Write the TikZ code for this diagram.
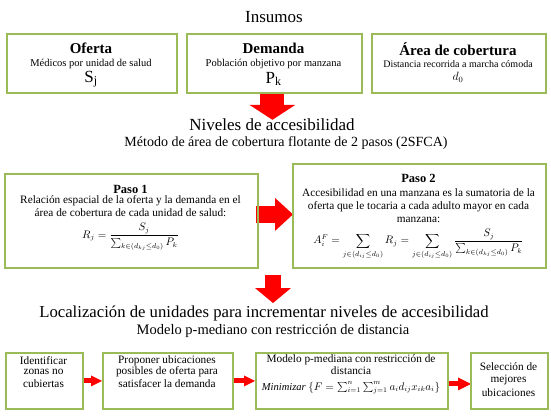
\documentclass[tikz,border=0pt]{standalone}
\usepackage{fontspec}
\setmainfont{Liberation Serif}
\usetikzlibrary{arrows.meta}
\definecolor{boxgreen}{RGB}{155,187,89}
\definecolor{arrowred}{RGB}{255,0,0}
\pgfdeclarelayer{background}
\pgfsetlayers{background,main}
\begin{document}
\begin{tikzpicture}[x=1pt,y=-1pt,
  greenbox/.style={draw=boxgreen,line width=1.8pt,inner sep=0pt,anchor=north west},
  txt/.style={inner sep=0pt,anchor=center},
  ttl/.style={txt,font=\fontsize{17}{20}\selectfont},
  subttl/.style={txt,font=\fontsize{14}{17}\selectfont},
  hd/.style={txt,font=\bfseries\fontsize{15}{18}\selectfont},
  phd/.style={txt,font=\bfseries\fontsize{12.5}{15}\selectfont},
  bodyt/.style={txt,font=\fontsize{10.5}{12}\selectfont},
  pbody/.style={txt,font=\fontsize{11.3}{13}\selectfont},
  bbody/.style={txt,font=\fontsize{11.3}{13}\selectfont},
  bigsym/.style={txt,font=\fontsize{17}{20}\selectfont},
  bigdown/.style={draw=arrowred,line width=24pt,-{Triangle[width=46pt,length=15pt,line width=0pt]}},
  bigdownb/.style={draw=arrowred,line width=16pt,-{Triangle[width=36pt,length=15pt,line width=0pt]}},
  bigright/.style={draw=arrowred,line width=17pt,-{Triangle[width=33pt,length=18pt,line width=0pt]}},
  smallarr/.style={draw=arrowred,line width=5pt,-{Triangle[width=11pt,length=11pt,line width=0pt]}},
  smallarrb/.style={draw=arrowred,line width=5pt,-{Triangle[width=13pt,length=13pt,line width=0pt]}}
]
\useasboundingbox (0,0) rectangle (551,415);

% ---------- Insumos ----------
\node[ttl] (tinsumos) at (274,17) {Insumos};

\node[greenbox,minimum width=170pt,minimum height=59pt] (oferta) at (6,33) {};
\node[hd] (ofertaT) at (91,48) {Oferta};
\node[bodyt] (ofertaD) at (91,64) {Médicos por unidad de salud};
\node[bigsym] (ofertaS) at (91,79) {S\textsubscript{j}};

\node[greenbox,minimum width=175pt,minimum height=59pt] (demanda) at (186,33) {};
\node[hd] (demandaT) at (273.5,48) {Demanda};
\node[bodyt] (demandaD) at (273.5,64) {Población objetivo por manzana};
\node[bigsym] (demandaS) at (273.5,79) {P\textsubscript{k}};

\node[greenbox,minimum width=174pt,minimum height=59pt] (area) at (371,33) {};
\node[hd] (areaT) at (458,49) {Área de cobertura};
\node[txt,font=\fontsize{10}{12}\selectfont] (areaD) at (458,64) {Distancia recorrida a marcha cómoda};
\node[txt,font=\fontsize{12}{14}\selectfont] (areaS) at (458,77) {$d_0$};

% ---------- Niveles ----------
\node[ttl] (tniveles) at (272,125) {Niveles de accesibilidad};
\node[subttl] (tmetodo) at (286,143) {Método de área de cobertura flotante de 2 pasos (2SFCA)};

\node[greenbox,minimum width=253pt,minimum height=94pt] (paso1) at (4,173) {};
\node[phd] (paso1T) at (130.5,189) {Paso 1};
\node[pbody] (paso1a) at (130.5,201) {Relación espacial de la oferta y la demanda en el};
\node[pbody] (paso1b) at (130.5,213) {área de cobertura de cada unidad de salud:};
\node[txt,font=\fontsize{10.5}{12}\selectfont] (paso1F) at (130.5,237)
  {$\displaystyle R_j=\frac{S_j}{\sum_{k\in(d_{kj}\le d_0)}P_k}$};

\node[greenbox,minimum width=253pt,minimum height=104pt] (paso2) at (292,163) {};
\node[phd] (paso2T) at (418.5,178) {Paso 2};
\node[pbody] (paso2a) at (418.5,193) {Accesibilidad en una manzana es la sumatoria de la};
\node[pbody] (paso2b) at (418.5,206.5) {oferta que le tocaria a cada adulto mayor en cada};
\node[pbody] (paso2c) at (418.5,219.5) {manzana:};
\node[txt,font=\fontsize{10.5}{12}\selectfont] (paso2F) at (418.5,244)
  {$\displaystyle A_i^F=\sum_{j\in(d_{ij}\le d_0)}R_j=\sum_{j\in(d_{ij}\le d_0)}\frac{S_j}{\sum_{k\in(d_{kj}\le d_0)}P_k}$};

% ---------- Localizacion ----------
\node[ttl,font=\fontsize{16.7}{20}\selectfont] (tlocal) at (264,313) {Localización de unidades para incrementar niveles de accesibilidad};
\node[subttl,font=\fontsize{14.5}{17}\selectfont] (tmodelo) at (273,331) {Modelo p-mediano con restricción de distancia};

\node[greenbox,minimum width=77pt,minimum height=56pt] (idz) at (5,352) {};
\node[bbody] (idz1) at (43.5,360.5) {Identificar};
\node[bbody] (idz2) at (43.5,372) {zonas no};
\node[bbody] (idz3) at (43.5,383.5) {cubiertas};

\node[greenbox,minimum width=130pt,minimum height=56pt] (prop) at (102,352) {};
\node[bbody] (prop1) at (167,360.5) {Proponer ubicaciones};
\node[bbody] (prop2) at (167,372) {posibles de oferta para};
\node[bbody] (prop3) at (167,383.5) {satisfacer la demanda};

\node[greenbox,minimum width=192pt,minimum height=56pt] (modelo) at (255,352) {};
\node[bbody] (mod1) at (351,360) {Modelo p-mediana con restricción de};
\node[bbody] (mod2) at (351,370.5) {distancia};
\node[txt,font=\fontsize{10.5}{12}\selectfont] (mod3) at (351,388)
  {$\mathit{Minimizar}\ \bigl\{F=\sum_{i=1}^{n}\sum_{j=1}^{m}a_id_{ij}x_{ik}a_i\bigr\}$};

\node[greenbox,minimum width=77pt,minimum height=56pt] (selec) at (470,352) {};
\node[bbody] (sel1) at (508.5,367) {Selección de};
\node[bbody] (sel2) at (508.5,380) {mejores};
\node[bbody] (sel3) at (508.5,393) {ubicaciones};

\coordinate (a3s) at (273,275);
\coordinate (a3e) at (273,303);

% ---------- arrows ----------
\begin{pgfonlayer}{background}
\draw[bigdown] ([xshift=-2pt]demanda.south) -- ++(0,26);
\draw[bigright] ([xshift=-3pt,yshift=6.5pt]paso1.east) -- ([xshift=1pt,yshift=1.5pt]paso2.west);
\draw[bigdownb] (a3s) -- (a3e);
\draw[smallarr] ([xshift=-1pt]idz.east) -- (prop.west);
\draw[smallarr] ([xshift=-1pt]prop.east) -- (modelo.west);
\draw[smallarrb] ([yshift=-3pt]modelo.east) -- ([xshift=1pt,yshift=-3pt]selec.west);
\end{pgfonlayer}
\end{tikzpicture}
\end{document}
